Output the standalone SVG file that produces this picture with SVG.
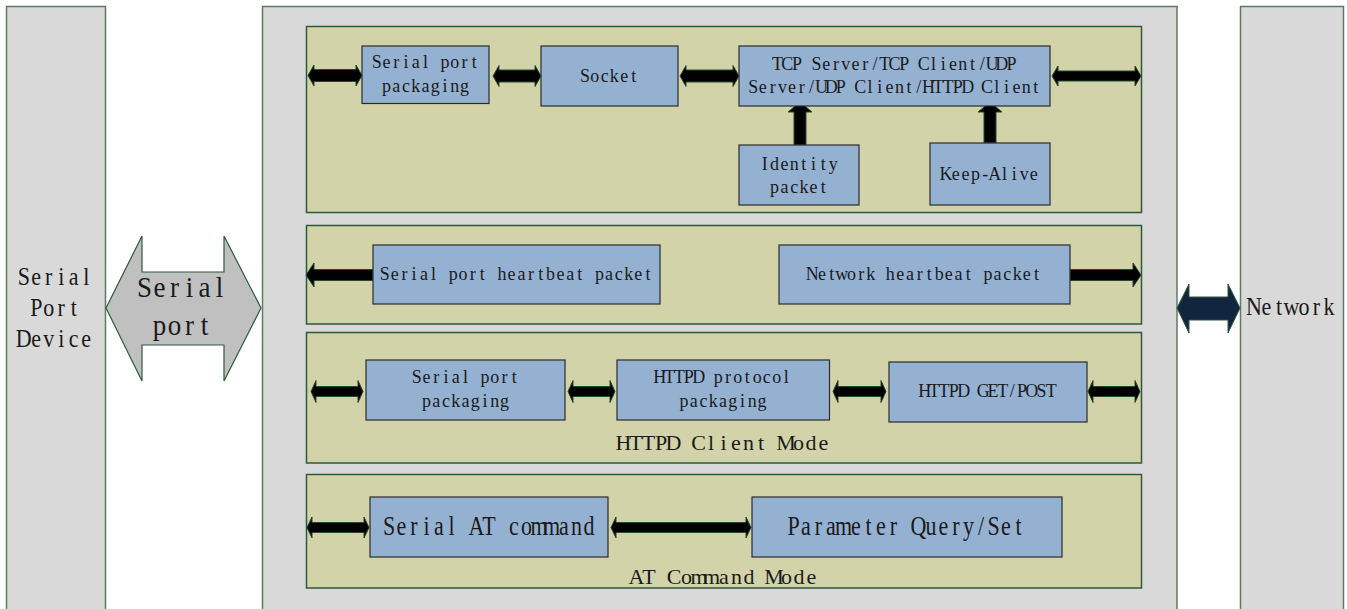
<svg xmlns="http://www.w3.org/2000/svg" width="1347" height="609" viewBox="0 0 1347 609">
<style>
.outer{fill:#d9d9d9;stroke:#5b7b64;stroke-width:1.5}
.panel{fill:#d3d3aa;stroke:#2d5a3a;stroke-width:1.5}
.node{fill:#95b1d2;stroke:#2b2b2b;stroke-width:1.2}
.arr{fill:#000;stroke:#244a30;stroke-width:1}
text{font-family:"Liberation Serif","Times New Roman",serif;fill:#1a1a1a;text-anchor:middle}
.s{font-size:18px}
.m{font-size:22px}
.l{font-size:27px}
</style>
<rect width="1347" height="609" fill="#ffffff"/>
<g id="serial-port-device">
<rect class="outer" x="6.5" y="6.5" width="99" height="610"/>
<text class="m" x="23.75 36.25 48.75 61.25 73.75 86.25" y="285" transform="matrix(1 0 0 1.1 0 -28.5)">Serial</text>
<text class="m" x="36.25 48.75 61.25 73.75" y="316" transform="matrix(1 0 0 1.1 0 -31.6)">Port</text>
<text class="m" x="23.75 36.25 48.75 61.25 73.75 86.25" y="347" transform="matrix(1 0 0 1.1 0 -34.7)">Device</text>
</g>
<g id="module">
<rect class="outer" x="262.5" y="6.5" width="914.5" height="610"/>
</g>
<g id="network">
<rect class="outer" x="1240.5" y="6.5" width="103" height="610"/>
<text class="m" x="1254 1266.5 1279 1291.5 1304 1316.5 1329" y="315" transform="matrix(1 0 0 1.1 0 -31.5)">Network</text>
</g>
<g id="panel-socket"><rect class="panel" x="306.5" y="26.5" width="835" height="186"/></g>
<g id="panel-heartbeat"><rect class="panel" x="306.5" y="225.5" width="835" height="98.5"/></g>
<g id="panel-httpd">
<rect class="panel" x="306.5" y="332.5" width="835" height="130.5"/>
<text class="m" x="623.5 636 648.5 661 673.5 686 698.5 711 723.5 736 748.5 761 773.5 786 798.5 811 823.5" y="450">HTTPD Client Mode</text>
</g>
<g id="panel-at">
<rect class="panel" x="306.5" y="474.5" width="835" height="113.5"/>
<text class="m" x="636.5 649 661.5 674 686.5 699 711.5 724 736.5 749 761.5 774 786.5 799 811.5" y="584">AT Command Mode</text>
</g>
<g id="connectors">
<polygon points="106,308 142,236 142,272 224,272 224,236 261,308 224,381 224,345 142,345 142,381" fill="#c0c0c0" stroke="#2d5a3a" stroke-width="1.2"/>
<text class="l" x="144.5 159.5 174.5 189.5 204.5 219.5" y="297" transform="matrix(1 0 0 1.1 0 -29.7)">Serial</text>
<text class="l" x="159.5 174.5 189.5 204.5" y="335" transform="matrix(1 0 0 1.1 0 -33.5)">port</text>
<polygon points="1177,308 1189,284 1189,297 1228,297 1228,284 1240,308 1228,333 1228,320 1189,320 1189,333" fill="#12253f" stroke="#2d5a3a" stroke-width="1"/>
<polygon class="arr" points="308,75.5 314,65 314,69.5 356,69.5 356,65 362,75.5 356,86 356,81.5 314,81.5 314,86"/>
<polygon class="arr" points="493,76 499,65.5 499,70 535,70 535,65.5 541,76 535,86.5 535,82 499,82 499,86.5"/>
<polygon class="arr" points="680,76 686,65.5 686,70 733,70 733,65.5 739,76 733,86.5 733,82 686,82 686,86.5"/>
<polygon class="arr" points="1052,76 1058,66 1058,71 1135,71 1135,66 1141,76 1135,86 1135,81 1058,81 1058,86"/>
<polygon class="arr" points="794,145 794,112 788,112 800,102 812,112 806,112 806,145"/>
<polygon class="arr" points="984,143 984,112 978,112 990,102 1002,112 996,112 996,143"/>
<polygon class="arr" points="306,275 314,263 314,269.5 373,269.5 373,280.5 314,280.5 314,287"/>
<polygon class="arr" points="1070,269.5 1133,269.5 1133,263 1141,275 1133,287 1133,280.5 1070,280.5"/>
<polygon class="arr" points="311,391.5 316,380.5 316,386.5 358,386.5 358,380.5 363,391.5 358,402.5 358,396.5 316,396.5 316,402.5"/>
<polygon class="arr" points="568,391.5 573,380.5 573,386.5 610,386.5 610,380.5 615,391.5 610,402.5 610,396.5 573,396.5 573,402.5"/>
<polygon class="arr" points="833,391.5 838,380.5 838,386.5 881,386.5 881,380.5 886,391.5 881,402.5 881,396.5 838,396.5 838,402.5"/>
<polygon class="arr" points="1088,391.5 1093,380.5 1093,386.5 1135,386.5 1135,380.5 1140,391.5 1135,402.5 1135,396.5 1093,396.5 1093,402.5"/>
<polygon class="arr" points="307,527.5 312,517 312,522.5 364,522.5 364,517 369,527.5 364,538 364,532.5 312,532.5 312,538"/>
<polygon class="arr" points="611,527.5 616,517 616,522.5 746,522.5 746,517 751,527.5 746,538 746,532.5 616,532.5 616,538"/>
</g>
<g id="node-serial-packaging-1">
<rect class="node" x="362" y="46" width="127" height="57.5"/>
<text class="s" x="376.75 386.5 396.25 406 415.75 425.5 435.25 445 454.75 464.5 474.25" y="68.5" transform="matrix(1 0 0 1.1 0 -6.85)">Serial port</text>
<text class="s" x="386.5 396.25 406 415.75 425.5 435.25 445 454.75 464.5" y="92.5" transform="matrix(1 0 0 1.1 0 -9.25)">packaging</text>
</g>
<g id="node-socket">
<rect class="node" x="541" y="46" width="137" height="60"/>
<text class="s" x="585.13 594.88 604.63 614.38 624.13 633.88" y="82" transform="matrix(1 0 0 1.1 0 -8.2)">Socket</text>
</g>
<g id="node-tcp">
<rect class="node" x="739" y="46" width="311" height="60"/>
<text class="s" x="777.5 787.25 797 806.75 816.5 826.25 836 845.75 855.5 865.25 875 884.75 894.5 904.25 914 923.75 933.5 943.25 953 962.75 972.5 982.25 992 1001.75 1011.5" y="70" transform="matrix(1 0 0 1.1 0 -7)">TCP Server/TCP Client/UDP</text>
<text class="s" x="753.13 762.88 772.63 782.38 792.13 801.88 811.63 821.38 831.13 840.88 850.63 860.38 870.13 879.88 889.63 899.38 909.13 918.88 928.63 938.38 948.13 957.88 967.63 977.38 987.13 996.88 1006.63 1016.38 1026.13 1035.88" y="93.5" transform="matrix(1 0 0 1.1 0 -9.35)">Server/UDP Client/HTTPD Client</text>
</g>
<g id="node-identity">
<rect class="node" x="739" y="145" width="120" height="60"/>
<text class="s" x="764.88 774.63 784.38 794.13 803.88 813.63 823.38 833.13" y="170" transform="matrix(1 0 0 1.1 0 -17)">Identity</text>
<text class="s" x="774.63 784.38 794.13 803.88 813.63 823.38" y="193" transform="matrix(1 0 0 1.1 0 -19.3)">packet</text>
</g>
<g id="node-keepalive">
<rect class="node" x="930" y="143" width="120" height="62"/>
<text class="s" x="946.13 955.88 965.63 975.38 985.13 994.88 1004.63 1014.38 1024.13 1033.88" y="180" transform="matrix(1 0 0 1.1 0 -18)">Keep-Alive</text>
</g>
<g id="node-serial-heartbeat">
<rect class="node" x="373" y="245" width="287" height="59"/>
<text class="s" x="384.88 394.63 404.38 414.13 423.88 433.63 443.38 453.13 462.88 472.63 482.38 492.13 501.88 511.63 521.38 531.13 540.88 550.63 560.38 570.13 579.88 589.63 599.38 609.13 618.88 628.63 638.38 648.13" y="280" transform="matrix(1 0 0 1.1 0 -28)">Serial port heartbeat packet</text>
</g>
<g id="node-network-heartbeat">
<rect class="node" x="779" y="245" width="291" height="59"/>
<text class="s" x="812.38 822.13 831.88 841.63 851.38 861.13 870.88 880.63 890.38 900.13 909.88 919.63 929.38 939.13 948.88 958.63 968.38 978.13 987.88 997.63 1007.38 1017.13 1026.88 1036.63" y="280" transform="matrix(1 0 0 1.1 0 -28)">Network heartbeat packet</text>
</g>
<g id="node-serial-packaging-2">
<rect class="node" x="366" y="360" width="199" height="60"/>
<text class="s" x="416.75 426.5 436.25 446 455.75 465.5 475.25 485 494.75 504.5 514.25" y="383.5" transform="matrix(1 0 0 1.1 0 -38.35)">Serial port</text>
<text class="s" x="426.5 436.25 446 455.75 465.5 475.25 485 494.75 504.5" y="407" transform="matrix(1 0 0 1.1 0 -40.7)">packaging</text>
</g>
<g id="node-httpd-protocol">
<rect class="node" x="617" y="360" width="212.5" height="60"/>
<text class="s" x="659.63 669.38 679.13 688.88 698.63 708.38 718.13 727.88 737.63 747.38 757.13 766.88 776.63 786.38" y="383.5" transform="matrix(1 0 0 1.1 0 -38.35)">HTTPD protocol</text>
<text class="s" x="684 693.75 703.5 713.25 723 732.75 742.5 752.25 762" y="407" transform="matrix(1 0 0 1.1 0 -40.7)">packaging</text>
</g>
<g id="node-httpd-getpost">
<rect class="node" x="889" y="362" width="198" height="60"/>
<text class="s" x="924.63 934.38 944.13 953.88 963.63 973.38 983.13 992.88 1002.63 1012.38 1022.13 1031.88 1041.63 1051.38" y="397" transform="matrix(1 0 0 1.1 0 -39.7)">HTTPD GET/POST</text>
</g>
<g id="node-serial-at">
<rect class="node" x="370" y="497" width="238" height="60"/>
<text class="m" x="389 401.5 414 426.5 439 451.5 464 476.5 489 501.5 514 526.5 539 551.5 564 576.5 589" y="535" transform="matrix(1 0 0 1.2 0 -107)">Serial AT command</text>
</g>
<g id="node-parameter">
<rect class="node" x="752" y="497" width="310" height="60"/>
<text class="m" x="793.5 806 818.5 831 843.5 856 868.5 881 893.5 906 918.5 931 943.5 956 968.5 981 993.5 1006 1018.5" y="535" transform="matrix(1 0 0 1.2 0 -107)">Parameter Query/Set</text>
</g>
</svg>
